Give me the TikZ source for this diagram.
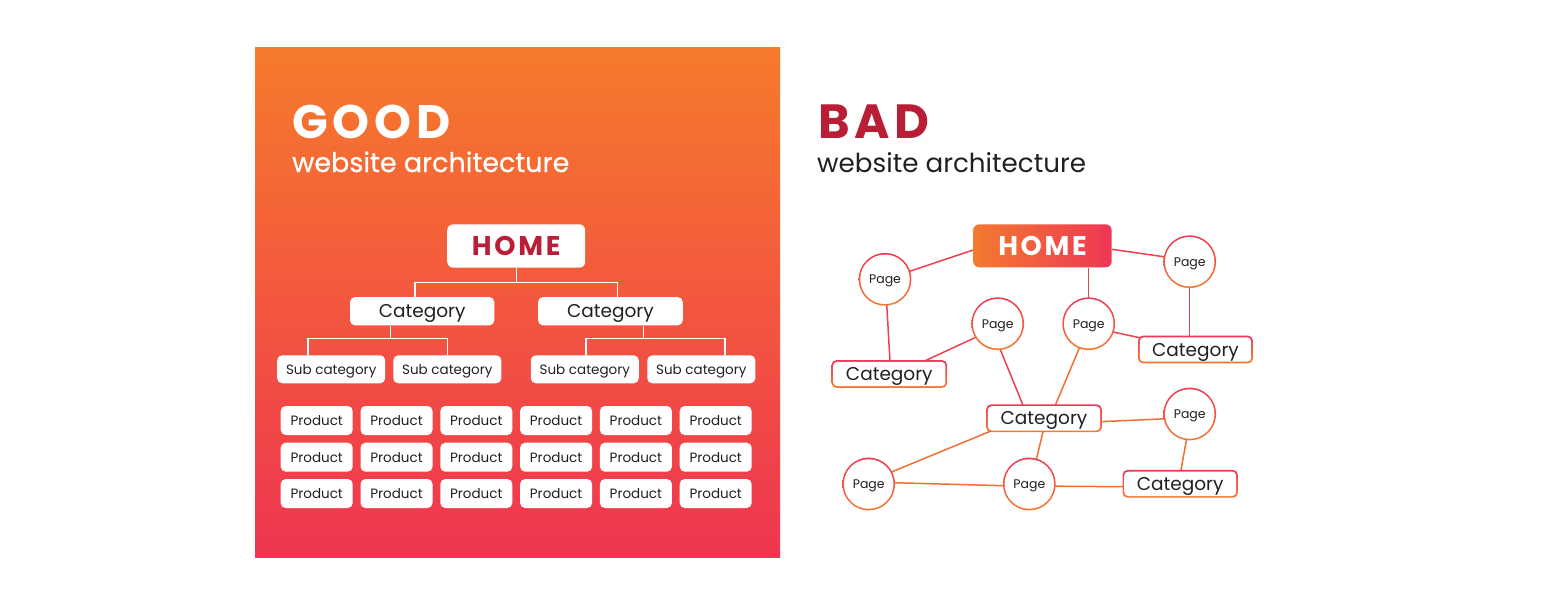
\documentclass[tikz,border=0pt]{standalone}
\usepackage{fontspec}
\setmainfont{Poppins}
\newfontfamily\spacedfont[LetterSpace=10]{Poppins}
\newfontfamily\medfont[FakeBold=0.6]{Poppins}
\usetikzlibrary{calc}
\definecolor{sqtop}{RGB}{246,122,43}
\definecolor{sqbot}{RGB}{239,53,81}
\definecolor{darkred}{RGB}{186,30,54}
\definecolor{txt}{RGB}{35,31,32}
\definecolor{ringtop}{RGB}{238,55,85}
\definecolor{ringbot}{RGB}{244,122,48}
\definecolor{edgered}{RGB}{238,65,80}
\definecolor{edgeora}{RGB}{243,110,51}
\pgfdeclarelayer{bg}
\pgfdeclarelayer{edges}
\pgfdeclarelayer{ring}
\pgfsetlayers{bg,edges,ring,main}
\tikzset{
  gbox/.style={rectangle, rounded corners=5, fill=white, inner sep=0, text=txt},
  tree/.style={draw=white, line width=1.4},
  pagec/.style={circle, fill=white, minimum size=49.5, inner sep=0, text=txt, text depth=0pt, font=\fontsize{12.5}{14}\selectfont},
  bcat/.style={rectangle, rounded corners=4, fill=white, inner sep=0, text=txt, minimum height=24.4, text depth=0pt, font=\fontsize{18.5}{20}\selectfont},
  er/.style={draw=edgered, line width=1.5},
  eo/.style={draw=edgeora, line width=1.5},
}
\begin{document}
\begin{tikzpicture}[x=1pt,y=-1pt]
\begin{pgfonlayer}{bg}
\fill[white] (0,0) rectangle (1564,590);
\end{pgfonlayer}
\useasboundingbox (0,0) rectangle (1564,590);
% left panel
\shade[top color=sqtop, bottom color=sqbot] (255,47) rectangle (780,557);
\node[anchor=base west, text=white, inner sep=0] (good) at (292,138) {\fontsize{47}{47}\selectfont\spacedfont\bfseries GOOD};
\node[anchor=base west, text=white, inner sep=0] (goodsub) at (292,172) {\fontsize{27}{27}\selectfont\medfont website architecture};
% tree
\node[gbox, minimum width=138, minimum height=43.4, rounded corners=6, text=darkred] (home) at (516.2,246) {\fontsize{27}{27}\selectfont\spacedfont\bfseries HOME};
\node[gbox, minimum width=144.3, minimum height=28.3, text depth=0pt, font=\fontsize{18.5}{20}\selectfont] (catL) at (422.2,311.2) {Category};
\node[gbox, minimum width=144.7, minimum height=28.3, text depth=0pt, font=\fontsize{18.5}{20}\selectfont] (catR) at (610.4,311.2) {Category};
\foreach \n/\x in {subA/331.2, subB/447.3, subC/584.8, subD/701.3}
  \node[gbox, minimum width=108, minimum height=28, text depth=0pt, font=\fontsize{13.5}{15}\selectfont] (\n) at (\x,369.3) {Sub category};
\foreach \r/\y in {1/420.5, 2/457.2, 3/493.5}
  \foreach \c in {0,...,5}
    \node[gbox, minimum width=72, minimum height=29, font=\fontsize{13.5}{15}\selectfont] (prod\r\c) at (316.7+79.8*\c,\y) {Product};
\draw[tree] (home.south) -- (home.south |- 0,282.3);
\draw[tree] (catL.north -| 415,0) -- (415,282.3) -- (617.3,282.3) -- (catR.north -| 617.3,0);
\draw[tree] (catL.south -| 390.7,0) -- (390.7,338.7);
\draw[tree] (subA.north -| 308,0) -- (308,338.7) -- (447.7,338.7) -- (subB.north -| 447.7,0);
\draw[tree] (catR.south -| 643.3,0) -- (643.3,338.7);
\draw[tree] (subC.north -| 586,0) -- (586,338.7) -- (725,338.7) -- (subD.north -| 725,0);
% right panel
\node[anchor=base west, text=darkred, inner sep=0] (bad) at (818,138) {\fontsize{48}{48}\selectfont\spacedfont\bfseries BAD};
\node[anchor=base west, text=txt, inner sep=0] (badsub) at (817,172) {\fontsize{26.2}{27}\selectfont website architecture};
\shade[left color=ringbot, right color=ringtop, rounded corners=6] (973.3,224.3) rectangle (1111.7,267.3);
\node[rectangle, minimum width=138.4, minimum height=43, inner sep=0, text=white] (home2) at (1042.5,245.8) {\fontsize{27}{27}\selectfont\spacedfont\bfseries HOME};
\node[pagec] (p1) at (885,279.3) {Page};
\node[pagec] (p2) at (1189.7,261.7) {Page};
\node[pagec] (p3) at (997.7,323.7) {Page};
\node[pagec] (p4) at (1088.7,323.7) {Page};
\node[pagec] (p5) at (1189.7,414) {Page};
\node[pagec] (p6) at (868.7,484) {Page};
\node[pagec] (p7) at (1029.3,484) {Page};
\node[bcat, minimum width=112.3] (c1) at (889.3,374) {Category};
\node[bcat, minimum width=111.4] (c2) at (1195.5,349.5) {Category};
\node[bcat, minimum width=112.4] (c3) at (1044,418.3) {Category};
\node[bcat, minimum width=112] (c4) at (1180.2,483.8) {Category};
\begin{pgfonlayer}{ring}
\foreach \n in {p1,p2,p3,p4,p5,p6,p7}
  \shade[top color=ringtop, bottom color=ringbot] (\n.center) circle (26.4);
\foreach \n in {c1,c2,c3,c4}
  \shade[top color=ringtop, bottom color=ringbot, rounded corners=5] ($(\n.north west)+(-1.5,-1.5)$) rectangle ($(\n.south east)+(1.5,1.5)$);
\end{pgfonlayer}
\begin{pgfonlayer}{edges}
\draw[er] (home2.west |- 0,250) -- (p1.18);
\draw[er] (home2.east |- 0,249.3) -- (p2.169);
\draw[er] (p4.north |- home2.south) -- (p4.north);
\draw[er] (p2.south) -- (p2.south |- c2.north);
\draw[er] (p1.-86) -- (c1.north -| 890,0);
\draw[er] (p3.212) -- (c1.north -| 923.3,0);
\draw[er] (p4.-19) -- (c2.west |- 0,337.7);
\draw[er] (p3.-85) -- (c3.north -| 1023.3,0);
\draw[eo] (p4.-111) -- (c3.north -| 1055,0);
\draw[eo] (c3.east |- 0,421.7) -- (p5.191);
\draw[eo] (c3.south -| 991.7,0) -- (p6.28);
\draw[eo] (c3.south -| 1043.3,0) -- (p7.74);
\draw[eo] (p5.-97) -- (c4.north -| 1180.7,0);
\draw[eo] (p6.3) -- (p7.184);
\draw[eo] (p7.-5) -- (c4.west |- 0,486.7);
\end{pgfonlayer}
\end{tikzpicture}
\end{document}
